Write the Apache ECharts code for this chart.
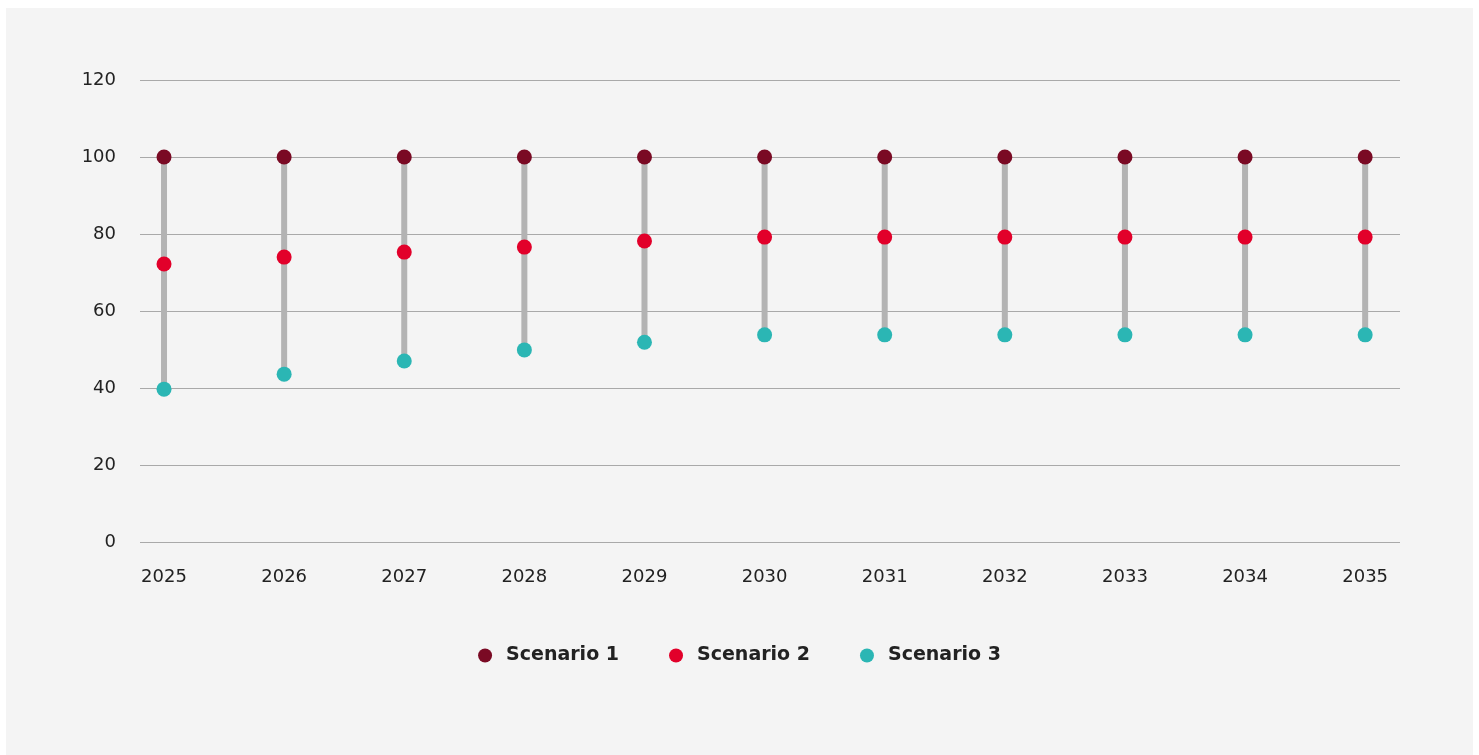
<!DOCTYPE html>
<html>
<head>
<meta charset="utf-8">
<script src="https://cdn.jsdelivr.net/npm/echarts@6/dist/echarts.min.js"></script>
<style>
html,body{margin:0;padding:0;background:#ffffff;}
#card{position:absolute;left:6px;top:8px;width:1467px;height:747px;background:#f4f4f4;}
#chart{position:absolute;left:0;top:0;width:1479px;height:755px;}
</style>
</head>
<body>
<div id="card"></div>
<div id="chart"></div>
<script>
const years = [2025, 2026, 2027, 2028, 2029, 2030, 2031, 2032, 2033, 2034, 2035];
const scenario1 = [100, 100, 100, 100, 100, 100, 100, 100, 100, 100, 100];
const scenario2 = [72.2, 74, 75.3, 76.6, 78.2, 79.2, 79.2, 79.2, 79.2, 79.2, 79.2];
const scenario3 = [39.7, 43.6, 47, 49.9, 51.9, 53.8, 53.8, 53.8, 53.8, 53.8, 53.8];
const yTicks = [0, 20, 40, 60, 80, 100, 120];

const font = '"DejaVu Sans", "Open Sans", sans-serif';
const chart = echarts.init(document.getElementById('chart'), null, {renderer: 'canvas'});

const rangeData = years.map((y, i) => [y, scenario3[i], scenario1[i]]);
const pts = arr => years.map((y, i) => [y, arr[i]]);

chart.setOption({
  backgroundColor: 'transparent',
  animation: false,
  textStyle: {fontFamily: font},
  grid: {left: 140, right: 79, top: 80, bottom: 213, containLabel: false},
  legend: {
    data: ['Scenario 1', 'Scenario 2', 'Scenario 3'],
    left: 'center',
    top: 641,
    icon: 'circle',
    itemWidth: 14,
    itemHeight: 14,
    itemGap: 50,
    textStyle: {fontFamily: font, fontSize: 19, fontWeight: 'bold', color: '#222222', padding: [0, 0, 0, 9]}
  },
  xAxis: {
    type: 'value',
    min: 2024.8,
    max: 2035.29,
    axisLine: {show: false},
    axisTick: {show: false},
    splitLine: {show: false},
    axisLabel: {
      customValues: years,
      formatter: v => String(Math.round(v)),
      fontSize: 18,
      color: '#222222',
      margin: 26,
      fontFamily: font
    }
  },
  yAxis: {
    type: 'value',
    min: 0,
    max: 120,
    interval: 20,
    axisLine: {show: false},
    axisTick: {show: false},
    splitLine: {lineStyle: {color: '#a9a9a9', width: 1}},
    axisLabel: {fontSize: 18, color: '#222222', margin: 24, fontFamily: font}
  },
  series: [
    {
      type: 'custom',
      name: 'range',
      z: 1,
      silent: true,
      data: rangeData,
      renderItem: function (params, api) {
        const lo = api.coord([api.value(0), api.value(1)]);
        const hi = api.coord([api.value(0), api.value(2)]);
        return {
          type: 'line',
          shape: {x1: lo[0], y1: lo[1], x2: hi[0], y2: hi[1]},
          style: {stroke: '#b3b3b3', lineWidth: 6}
        };
      }
    },
    {name: 'Scenario 1', type: 'scatter', z: 3, symbolSize: 15, itemStyle: {color: '#7a0a24', opacity: 1}, data: pts(scenario1)},
    {name: 'Scenario 2', type: 'scatter', z: 3, symbolSize: 15, itemStyle: {color: '#e2002a', opacity: 1}, data: pts(scenario2)},
    {name: 'Scenario 3', type: 'scatter', z: 3, symbolSize: 15, itemStyle: {color: '#2bb6b4', opacity: 1}, data: pts(scenario3)}
  ]
});
</script>
</body>
</html>
